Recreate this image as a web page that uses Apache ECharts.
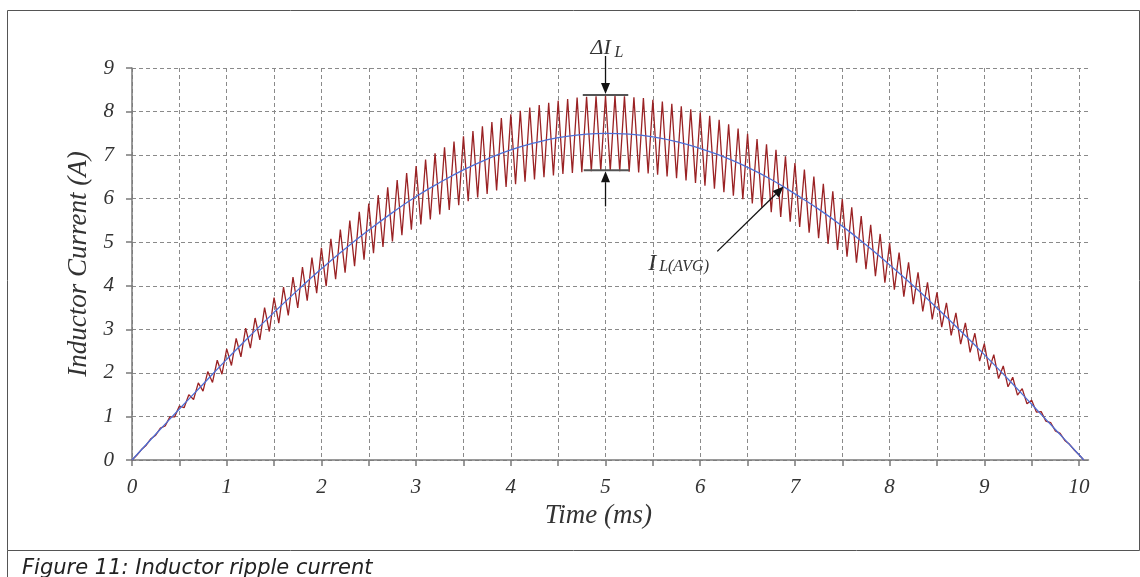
<!DOCTYPE html>
<html>
<head>
<meta charset="utf-8">
<script src="https://cdn.jsdelivr.net/npm/echarts@6/dist/echarts.min.js"></script>
<style>
  html, body { margin: 0; padding: 0; background: #fff; }
  #main { width: 1140px; height: 577px; }
</style>
</head>
<body>
<div id="main"></div>
<script>
// 坐标轴刻度
const xTicks = [0, 0.5, 1, 1.5, 2, 2.5, 3, 3.5, 4, 4.5, 5, 5.5, 6, 6.5, 7, 7.5, 8, 8.5, 9, 9.5, 10];
const xLabels = [0, 1, 2, 3, 4, 5, 6, 7, 8, 9, 10];

// 平均电流 I_L(AVG)，每 0.25 ms 读一个点
const avgTime = [0, 0.25, 0.5, 0.75, 1, 1.25, 1.5, 1.75, 2, 2.25, 2.5, 2.75, 3, 3.25, 3.5, 3.75, 4, 4.25, 4.5, 4.75,
  5, 5.25, 5.5, 5.75, 6, 6.25, 6.5, 6.75, 7, 7.25, 7.5, 7.75, 8, 8.25, 8.5, 8.75, 9, 9.25, 9.5, 9.75, 10, 10.05];
const avgCurrent = [0, 0.59, 1.17, 1.74, 2.31, 2.86, 3.39, 3.90, 4.39, 4.85, 5.28, 5.68, 6.05, 6.37, 6.66, 6.91, 7.12, 7.28, 7.40, 7.47,
  7.50, 7.48, 7.42, 7.31, 7.15, 6.96, 6.72, 6.44, 6.11, 5.76, 5.37, 4.94, 4.48, 4.00, 3.49, 2.96, 2.42, 1.86, 1.28, 0.70, 0.12, 0];

// 纹波电流，每 0.05 ms 一个点（谷/峰交替）
const rippleStepMs = 0.05;
const rippleCurrent = [
  0, 0.11, 0.24, 0.34, 0.49, 0.57, 0.73, 0.78, 0.99, 0.99,
  1.24, 1.20, 1.50, 1.39, 1.77, 1.58, 2.03, 1.78, 2.29, 1.97,
  2.55, 2.17, 2.79, 2.37, 3.03, 2.57, 3.26, 2.76, 3.50, 2.95,
  3.73, 3.14, 3.97, 3.32, 4.20, 3.49, 4.43, 3.66, 4.65, 3.83,
  4.87, 3.99, 5.08, 4.15, 5.29, 4.30, 5.50, 4.45, 5.70, 4.60,
  5.89, 4.75, 6.08, 4.89, 6.26, 5.02, 6.43, 5.16, 6.59, 5.29,
  6.75, 5.41, 6.90, 5.52, 7.04, 5.64, 7.18, 5.74, 7.31, 5.85,
  7.43, 5.94, 7.55, 6.03, 7.66, 6.11, 7.76, 6.19, 7.85, 6.27,
  7.94, 6.33, 8.02, 6.39, 8.09, 6.44, 8.15, 6.49, 8.20, 6.53,
  8.25, 6.57, 8.29, 6.59, 8.32, 6.61, 8.34, 6.63, 8.35, 6.64,
  8.36, 6.64, 8.36, 6.63, 8.35, 6.62, 8.33, 6.60, 8.31, 6.58,
  8.27, 6.55, 8.23, 6.51, 8.18, 6.47, 8.12, 6.42, 8.05, 6.36,
  7.98, 6.30, 7.90, 6.23, 7.81, 6.15, 7.71, 6.07, 7.61, 5.99,
  7.49, 5.89, 7.37, 5.80, 7.25, 5.69, 7.12, 5.58, 6.97, 5.47,
  6.82, 5.35, 6.67, 5.22, 6.51, 5.09, 6.34, 4.96, 6.17, 4.82,
  5.99, 4.67, 5.80, 4.53, 5.60, 4.38, 5.40, 4.22, 5.19, 4.07,
  4.98, 3.91, 4.76, 3.75, 4.54, 3.58, 4.31, 3.41, 4.08, 3.23,
  3.85, 3.05, 3.61, 2.86, 3.38, 2.66, 3.15, 2.47, 2.91, 2.27,
  2.67, 2.07, 2.42, 1.87, 2.16, 1.68, 1.90, 1.49, 1.64, 1.29,
  1.37, 1.10, 1.11, 0.89, 0.86, 0.67, 0.61, 0.45, 0.36, 0.23,
  0.12, 0
];

// ΔI_L 标注的上下沿
const deltaTop = 8.38;
const deltaBottom = 6.65;

const serif = '"Liberation Serif", "DejaVu Serif", serif';
const textColor = '#333';
const gridColor = '#8a8a8a';
const axisColor = '#7a7a7a';

const chart = echarts.init(document.getElementById('main'));

const option = {
  animation: false,
  backgroundColor: '#fff',
  grid: { left: 132, top: 68, width: 956.5, height: 392 },
  xAxis: {
    type: 'value',
    min: 0,
    max: 10.1,
    interval: 0.5,
    name: 'Time (ms)',
    nameLocation: 'middle',
    nameGap: 42,
    nameTextStyle: { fontFamily: serif, fontStyle: 'italic', fontSize: 27, color: textColor, padding: [0, 24, 0, 0] },
    axisLine: { show: true, lineStyle: { color: axisColor, width: 1.5 } },
    axisTick: { show: true, length: 6, customValues: xTicks, lineStyle: { color: axisColor, width: 1.5 } },
    axisLabel: {
      customValues: xLabels,
      margin: 17,
      fontFamily: serif, fontStyle: 'italic', fontSize: 21, color: textColor
    },
    splitLine: { show: true, lineStyle: { color: gridColor, type: [4, 3], width: 1 } }
  },
  yAxis: {
    type: 'value',
    min: 0,
    max: 9,
    interval: 1,
    name: 'Inductor Current (A)',
    nameLocation: 'middle',
    nameGap: 36,
    nameTextStyle: { fontFamily: serif, fontStyle: 'italic', fontSize: 27, color: textColor },
    axisLine: { show: true, lineStyle: { color: axisColor, width: 1.5 } },
    axisTick: { show: true, length: 6, lineStyle: { color: axisColor, width: 1.5 } },
    axisLabel: { margin: 18, fontFamily: serif, fontStyle: 'italic', fontSize: 21, color: textColor },
    splitLine: { show: true, lineStyle: { color: gridColor, type: [4, 3], width: 1 } }
  },
  series: [
    {
      type: 'line',
      name: 'ripple',
      showSymbol: false,
      data: rippleCurrent.map((v, i) => [+(i * rippleStepMs).toFixed(2), v]),
      lineStyle: { color: '#9a2224', width: 1.3 },
      z: 3
    },
    {
      type: 'line',
      name: 'average',
      smooth: true,
      showSymbol: false,
      data: avgTime.map((t, i) => [t, avgCurrent[i]]),
      lineStyle: { color: '#4d6fd6', width: 1.3 },
      z: 4
    }
  ]
};
chart.setOption(option);

// 箭头：线段 + 实心三角
function arrow(from, to) {
  const dx = to[0] - from[0], dy = to[1] - from[1];
  const len = Math.hypot(dx, dy);
  const ux = dx / len, uy = dy / len;
  const hl = 11, hw = 4.5;
  const bx = to[0] - ux * hl, by = to[1] - uy * hl;
  return [
    { type: 'line', shape: { x1: from[0], y1: from[1], x2: bx, y2: by }, style: { stroke: '#111', lineWidth: 1.3 }, z: 20 },
    { type: 'polygon', shape: { points: [to, [bx - uy * hw, by + ux * hw], [bx + uy * hw, by - ux * hw]] }, style: { fill: '#111' }, z: 20 }
  ];
}

const px = p => chart.convertToPixel({ gridIndex: 0 }, p);
const topL = px([4.76, deltaTop]), topR = px([5.24, deltaTop]);
const botL = px([4.77, deltaBottom]), botR = px([5.25, deltaBottom]);
const mid = px([5, deltaTop]), midB = px([5, deltaBottom]);
const avgFrom = px([6.18, 4.79]), avgTo = px([6.88, 6.28]);
const avgText = px([5.45, 4.55]);

let graphics = [
  // 外框
  { type: 'rect', shape: { x: 7.5, y: 10.5, width: 1132, height: 540 }, style: { fill: 'none', stroke: '#555', lineWidth: 1 }, z: 1 },
  { type: 'line', shape: { x1: 7.5, y1: 550.5, x2: 7.5, y2: 577 }, style: { stroke: '#555', lineWidth: 1 } },
  {
    type: 'text', left: 22, top: 558,
    style: { text: 'Figure 11: Inductor ripple current', font: 'italic 21px "DejaVu Sans", sans-serif', fill: '#222' }
  },
  // ΔI_L 上下横线
  { type: 'line', shape: { x1: topL[0], y1: topL[1], x2: topR[0], y2: topR[1] }, style: { stroke: '#555', lineWidth: 2 }, z: 20 },
  { type: 'line', shape: { x1: botL[0], y1: botL[1], x2: botR[0], y2: botR[1] }, style: { stroke: '#555', lineWidth: 2 }, z: 20 },
  {
    type: 'text', x: mid[0] - 15, y: mid[1] - 58,
    style: { text: 'ΔI', font: 'italic 22px ' + serif, fill: textColor }, z: 20
  },
  {
    type: 'text', x: mid[0] + 9, y: mid[1] - 50,
    style: { text: 'L', font: 'italic 16px ' + serif, fill: textColor }, z: 20
  },
  {
    type: 'text', x: avgText[0], y: avgText[1] - 10,
    style: { text: 'I', font: 'italic 24px ' + serif, fill: textColor }, z: 20
  },
  {
    type: 'text', x: avgText[0] + 11, y: avgText[1] - 3,
    style: { text: 'L(AVG)', font: 'italic 16px ' + serif, fill: textColor }, z: 20
  }
];
graphics = graphics
  .concat(arrow([mid[0], mid[1] - 39], [mid[0], mid[1] - 1]))
  .concat(arrow([midB[0], midB[1] + 36], [midB[0], midB[1] + 1]))
  .concat(arrow(avgFrom, avgTo));

chart.setOption({ graphic: graphics });
</script>
</body>
</html>
